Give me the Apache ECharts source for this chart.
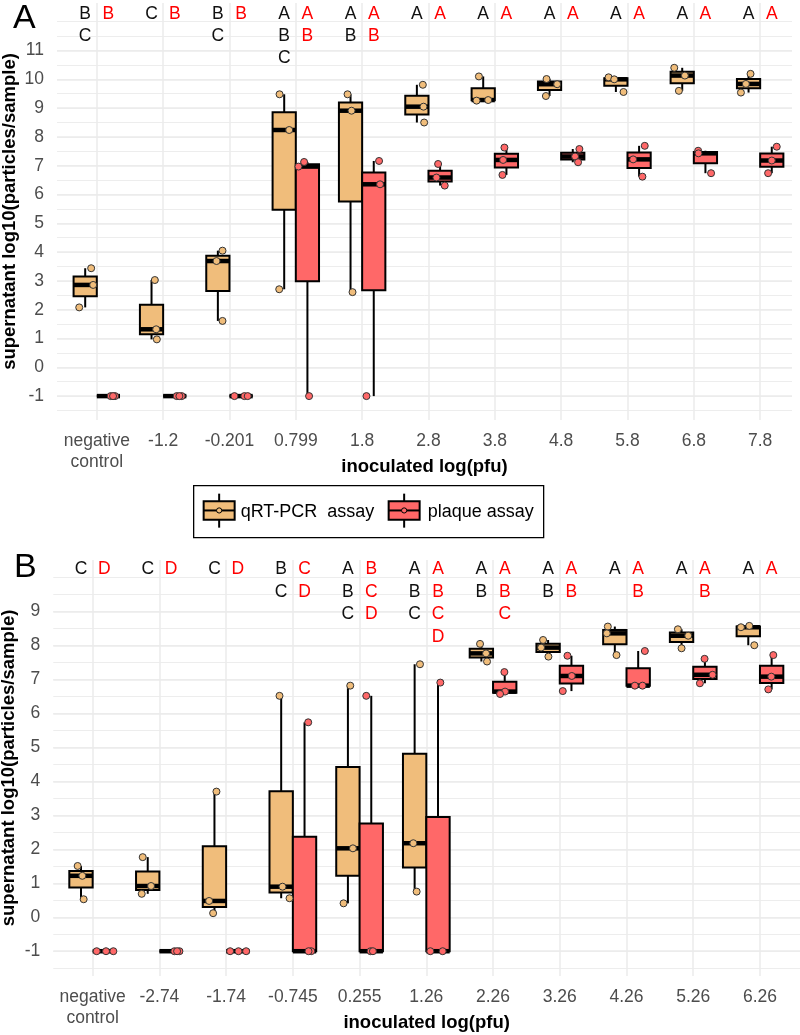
<!DOCTYPE html>
<html>
<head>
<meta charset="utf-8">
<script src="https://cdn.jsdelivr.net/npm/echarts@6/dist/echarts.min.js"></script>
<style>
html,body{margin:0;padding:0;background:#fff;}
#chart{width:800px;height:1035px;}
</style>
</head>
<body>
<div id="chart"></div>
<script>
// ---------------- DATA ----------------
const catsA = ['negative\ncontrol','-1.2','-0.201','0.799','1.8','2.8','3.8','4.8','5.8','6.8','7.8'];
const catsB = ['negative\ncontrol','-2.74','-1.74','-0.745','0.255','1.26','2.26','3.26','4.26','5.26','6.26'];

// replicate values, log10(particles/sample)
const qpcrA = [[3.44,2.86,2.08],[3.03,1.32,0.97],[4.05,3.69,1.61],[9.48,8.24,2.71],[9.48,8.91,2.61],
  [9.81,9.05,8.50],[10.10,9.26,9.28],[10.01,9.83,9.42],[10.07,10.00,9.56],[10.40,10.13,9.60],[10.19,9.84,9.54]];
const plaqueA = [[-1,-1,-1],[-1,-1,-1],[-1,-1,-1],[7.13,6.97,-1],[7.165,6.355,-1],
  [7.06,6.59,6.31],[7.63,7.20,6.68],[7.58,7.32,7.12],[7.69,7.22,6.62],[7.52,7.43,6.74],[7.66,7.18,6.74]];
const qpcrB = [[1.51,1.22,0.53],[1.77,0.92,0.69],[3.70,0.48,0.12],[6.52,0.90,0.56],[6.82,2.03,0.41],
  [7.45,2.18,0.755],[8.05,7.77,7.53],[8.165,7.94,7.675],[8.56,8.36,7.72],[8.48,8.29,7.92],[8.58,8.54,8.01]];
const plaqueB = [[-1,-1,-1],[-1,-1,-1],[-1,-1,-1],[5.74,-1,-1],[6.52,-1,-1],
  [6.91,-1,-1],[7.22,6.645,6.575],[7.70,7.105,6.66],[7.84,6.82,6.82],[7.61,7.14,6.89],[7.72,7.085,6.71]];

// horizontal jitter of each replicate (category units)
const jitQpcrA = [[0.09,0.12,-0.09],[0.05,0.07,0.08],[0.07,-0.02,0.07],[-0.07,0.075,-0.075],[-0.045,0.015,0.03],
  [0.09,0.1,0.11],[-0.065,-0.1,0.075],[-0.045,0.115,-0.055],[-0.11,-0.025,0.115],[-0.12,0.04,-0.05],[0.03,-0.04,-0.115]];
const jitPlaqueA = [[0.035,0.1,0.07],[0.03,0.105,0.07],[-0.1,0.05,0.1],[-0.05,-0.135,0.025],[0.08,0.095,-0.11],
  [-0.03,-0.055,0.07],[-0.03,-0.05,-0.06],[0.1,0.035,0.08],[0.085,-0.09,0.05],[-0.11,-0.105,0.085],[0.075,0,-0.055]];
const jitQpcrB = [[-0.05,0.02,0.04],[-0.075,0.05,-0.09],[0.03,-0.08,-0.02],[-0.025,0.02,0.125],[0.035,0.075,-0.065],
  [0.08,-0.02,0.03],[-0.02,0.07,0.085],[-0.075,-0.105,0.005],[-0.105,-0.12,0.025],[-0.055,0.1,0],[0.015,-0.11,0.09]];
const jitPlaqueB = [[-0.115,0.025,0.135],[0.05,0.125,0.09],[-0.115,0.01,0.125],[0.055,0.1,0.06],[-0.075,-0.01,0.025],
  [0.035,-0.115,0.07],[-0.005,0.005,-0.07],[-0.06,0.005,-0.13],[0.1,-0.05,0.065],[-0.005,0.115,-0.075],[0.025,-0.005,-0.05]];

// compact letter display
const lettersQpcrA   = ['BC','C','BC','ABC','AB','A','A','A','A','A','A'];
const lettersPlaqueA = ['B','B','B','AB','AB','A','A','A','A','A','A'];
const lettersQpcrB   = ['C','C','C','BC','ABC','ABC','AB','AB','A','A','A'];
const lettersPlaqueB = ['D','D','D','CD','BCD','ABCD','ABC','AB','AB','AB','A'];

// y-axis tick labels
const yTicksA = [-1,0,1,2,3,4,5,6,7,8,9,10,11];
const yTicksB = [-1,0,1,2,3,4,5,6,7,8,9];

// ---------------- STYLE / LAYOUT ----------------
const ORANGE = '#F0BD7B', RED = '#FF6868';
const DODGE = 0.175, BOX_W = 0.35;
const FONT = '"Liberation Sans", Arial, Helvetica, sans-serif';
const GRID_COL = '#EBEBEB';

function quant(arr, p){
  const s = arr.slice().sort((a,b)=>a-b);
  const h = (s.length-1)*p, lo = Math.floor(h), hi = Math.ceil(h);
  return s[lo] + (h-lo)*(s[hi]-s[lo]);
}
function boxStats(groups, off){
  return groups.map((g,i)=>[i+off, Math.min(...g), quant(g,0.25), quant(g,0.5), quant(g,0.75), Math.max(...g)]);
}
function pts(groups, jit, off){
  const out=[];
  groups.forEach((g,i)=>g.forEach((v,k)=>out.push([i+off+jit[i][k], v])));
  return out;
}
function letterData(letters, off){
  const out=[];
  letters.forEach((s,i)=>s.split('').forEach((ch,r)=>out.push([i+off, r, ch])));
  return out;
}
function boxRender(color){
  return function(params, api){
    const x=api.value(0), mn=api.value(1), q1=api.value(2), md=api.value(3), q3=api.value(4), mx=api.value(5);
    const h=BOX_W/2;
    const tl=api.coord([x-h,q3]), br=api.coord([x+h,q1]);
    const pMin=api.coord([x,mn]), pMax=api.coord([x,mx]), pQ1=api.coord([x,q1]), pQ3=api.coord([x,q3]);
    const mL=api.coord([x-h,md]), mR=api.coord([x+h,md]);
    const ls={stroke:'#000', lineWidth:2};
    return {type:'group', children:[
      {type:'line', shape:{x1:pMax[0],y1:pMax[1],x2:pQ3[0],y2:pQ3[1]}, style:ls},
      {type:'line', shape:{x1:pQ1[0],y1:pQ1[1],x2:pMin[0],y2:pMin[1]}, style:ls},
      {type:'rect', shape:{x:tl[0],y:tl[1],width:br[0]-tl[0],height:br[1]-tl[1]}, style:{fill:color, stroke:'#000', lineWidth:2}},
      {type:'line', shape:{x1:mL[0],y1:mL[1],x2:mR[0],y2:mR[1]}, style:{stroke:'#000', lineWidth:4.5}}
    ]};
  };
}
function letterRender(color, top, step){
  return function(params, api){
    const p = api.coord([api.value(0), top - api.value(1)*step]);
    return {type:'text', x:p[0], y:p[1], style:{text: api.value(2), fill:color, font:'17.5px '+FONT, align:'center', verticalAlign:'middle'}};
  };
}

function xAxisDef(gridIndex, cats, min, max){
  return {type:'value', gridIndex, min, max,
    axisLine:{show:false}, axisTick:{show:false, customValues:[0,1,2,3,4,5,6,7,8,9,10]},
    splitLine:{show:true, lineStyle:{color:GRID_COL, width:1.5}},
    axisLabel:{customValues:[0,1,2,3,4,5,6,7,8,9,10], formatter:v=>cats[Math.round(v)], color:'#4D4D4D',
      fontSize:17.5, fontFamily:FONT, lineHeight:21, margin:11, hideOverlap:false},
    name:'inoculated log(pfu)', nameLocation:'middle', nameGap:37, nameMoveOverlap:false,
    nameTextStyle:{fontWeight:'bold', fontSize:18.5, color:'#000', fontFamily:FONT}
  };
}
function yMajor(gridIndex, ticks, min, max, gap){
  return {type:'value', gridIndex, min, max,
    axisLine:{show:false}, axisTick:{show:false, customValues:ticks},
    splitLine:{show:true, lineStyle:{color:GRID_COL, width:1.5}},
    axisLabel:{customValues:ticks, color:'#4D4D4D', fontSize:17.5, fontFamily:FONT, margin:13},
    name:'supernatant log10(particles/sample)', nameLocation:'middle', nameGap:gap, nameMoveOverlap:false,
    nameTextStyle:{fontWeight:'bold', fontSize:18.5, color:'#000', fontFamily:FONT}
  };
}
function yMinor(gridIndex, ticks, min, max){
  const mv=[]; for(let v=ticks[0]-0.5; v<=ticks[ticks.length-1]+1.001; v+=0.5) mv.push(Math.round(v*10)/10);
  return {type:'value', gridIndex, min, max,
    axisLine:{show:false}, axisTick:{show:false, customValues:mv}, axisLabel:{show:false},
    splitLine:{show:true, lineStyle:{color:GRID_COL, width:0.9}}
  };
}

function panelSeries(xi, yi, qp, pl, jq, jp, lq, lp, top, step){
  return [
    {type:'custom', name:'qRT-PCR assay', xAxisIndex:xi, yAxisIndex:yi, z:2, renderItem:boxRender(ORANGE),
      encode:{x:0, y:[1,2,3,4,5]}, data:boxStats(qp,-DODGE)},
    {type:'custom', name:'plaque assay', xAxisIndex:xi, yAxisIndex:yi, z:2, renderItem:boxRender(RED),
      encode:{x:0, y:[1,2,3,4,5]}, data:boxStats(pl,DODGE)},
    {type:'scatter', name:'qRT-PCR assay', xAxisIndex:xi, yAxisIndex:yi, z:3, symbolSize:7,
      itemStyle:{color:ORANGE, borderColor:'#333', borderWidth:1, opacity:1}, data:pts(qp,jq,-DODGE)},
    {type:'scatter', name:'plaque assay', xAxisIndex:xi, yAxisIndex:yi, z:3, symbolSize:7,
      itemStyle:{color:RED, borderColor:'#333', borderWidth:1, opacity:1}, data:pts(pl,jp,DODGE)},
    {type:'custom', xAxisIndex:xi, yAxisIndex:yi, z:4, renderItem:letterRender('#111',top,step),
      encode:{x:0,y:1}, data:letterData(lq,-DODGE)},
    {type:'custom', xAxisIndex:xi, yAxisIndex:yi, z:4, renderItem:letterRender('#FF0000',top,step),
      encode:{x:0,y:1}, data:letterData(lp,DODGE)}
  ];
}

const chart = echarts.init(document.getElementById('chart'), null, {renderer:'canvas'});
const option = {
  animation:false,
  backgroundColor:'#fff',
  textStyle:{fontFamily:FONT},
  grid:[
    {left:57, right:8, top:3, bottom:615, containLabel:false, outerBoundsMode:'none'},
    {left:53.3, right:0, top:560, bottom:59, containLabel:false, outerBoundsMode:'none'}
  ],
  xAxis:[ xAxisDef(0, catsA, -0.6, 10.48), xAxisDef(1, catsB, -0.59, 10.6) ],
  yAxis:[
    yMajor(0, yTicksA, -1.83, 12.65, 37.5), yMinor(0, yTicksA, -1.83, 12.65),
    yMajor(1, yTicksB, -1.73, 10.52, 34.5), yMinor(1, yTicksB, -1.73, 10.52)
  ],
  series:[
    ...panelSeries(0, 0, qpcrA, plaqueA, jitQpcrA, jitPlaqueA, lettersQpcrA, lettersPlaqueA, 12.27, 0.765),
    ...panelSeries(1, 2, qpcrB, plaqueB, jitQpcrB, jitPlaqueB, lettersQpcrB, lettersPlaqueB, 10.25, 0.663)
  ],
  graphic:[
    {type:'text', left:13, top:2, style:{text:'A', font:'34px '+FONT, fill:'#000'}},
    {type:'text', left:14, top:551, style:{text:'B', font:'34px '+FONT, fill:'#000'}},
    {type:'group', left:193, top:485, children:[
      {type:'rect', shape:{x:0,y:0,width:350,height:52}, style:{fill:'#fff', stroke:'#000', lineWidth:1.3}},
      // qRT-PCR key
      {type:'line', shape:{x1:25.5,y1:8,x2:25.5,y2:42}, style:{stroke:'#000', lineWidth:2}},
      {type:'rect', shape:{x:10,y:15.5,width:31,height:18.5}, style:{fill:ORANGE, stroke:'#000', lineWidth:2}},
      {type:'line', shape:{x1:10,y1:24.8,x2:41,y2:24.8}, style:{stroke:'#000', lineWidth:2}},
      {type:'circle', shape:{cx:25.5,cy:24.8,r:2.6}, style:{fill:ORANGE, stroke:'#000', lineWidth:1}},
      {type:'text', x:47, y:26, style:{text:'qRT-PCR  assay', font:'18px '+FONT, fill:'#000', verticalAlign:'middle'}},
      // plaque key
      {type:'line', shape:{x1:210.5,y1:8,x2:210.5,y2:42}, style:{stroke:'#000', lineWidth:2}},
      {type:'rect', shape:{x:195,y:15.5,width:31,height:18.5}, style:{fill:RED, stroke:'#000', lineWidth:2}},
      {type:'line', shape:{x1:195,y1:24.8,x2:226,y2:24.8}, style:{stroke:'#000', lineWidth:2}},
      {type:'circle', shape:{cx:210.5,cy:24.8,r:2.6}, style:{fill:RED, stroke:'#000', lineWidth:1}},
      {type:'text', x:234, y:26, style:{text:'plaque assay', font:'18px '+FONT, fill:'#000', verticalAlign:'middle'}}
    ]}
  ]
};
chart.setOption(option);
</script>
</body>
</html>
